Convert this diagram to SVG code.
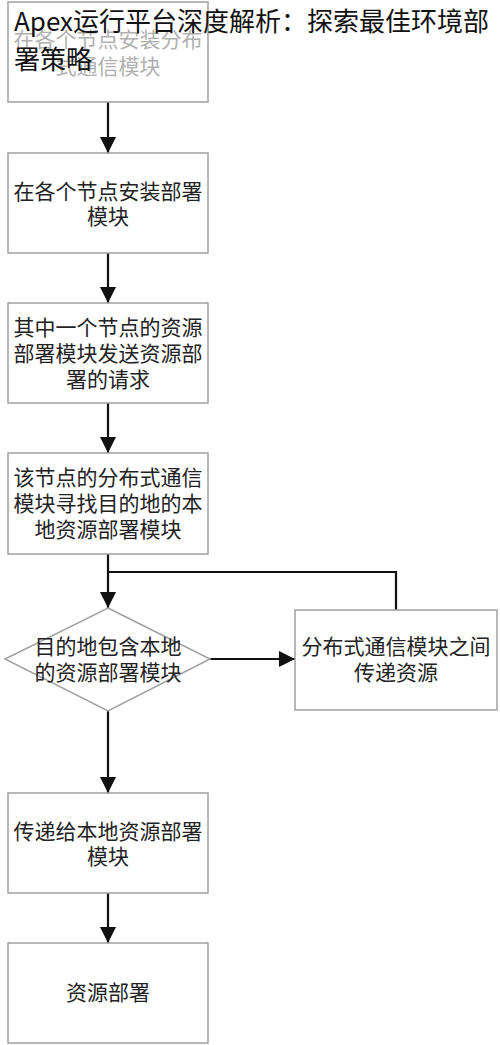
<svg xmlns="http://www.w3.org/2000/svg" width="500" height="1045" viewBox="0 0 500 1045">
<style>
.box{fill:#fff;stroke:#a0a0a0;stroke-width:1.5}
.t{font-family:"Liberation Serif","Noto Sans CJK SC",serif;font-size:21px;fill:#222;text-anchor:middle}
.faded{fill:#b0b0b0}
.c{fill:none;stroke:#111;stroke-width:2.2}
.title{font-family:"Noto Sans CJK SC","Noto Sans",sans-serif;font-size:26px;fill:#111}
</style>
<defs>
<marker id="ah" viewBox="0 0 16 16" refX="16" refY="8" markerWidth="16" markerHeight="16" markerUnits="userSpaceOnUse" orient="auto">
<path d="M0,0 L16,8 L0,16 Z" fill="#111"/>
</marker>
</defs>
<rect width="500" height="1045" fill="#fff"/>
<g id="connectors">
<line class="c" x1="108" y1="102" x2="108" y2="153" marker-end="url(#ah)"/>
<line class="c" x1="108" y1="253" x2="108" y2="303" marker-end="url(#ah)"/>
<line class="c" x1="108" y1="403" x2="108" y2="453" marker-end="url(#ah)"/>
<line class="c" x1="108" y1="554" x2="108" y2="608" marker-end="url(#ah)"/>
<polyline class="c" points="108,572 396,572 396,610"/>
<line class="c" x1="210" y1="659" x2="295" y2="659" marker-end="url(#ah)"/>
<line class="c" x1="108" y1="711" x2="108" y2="793" marker-end="url(#ah)"/>
<line class="c" x1="108" y1="893" x2="108" y2="943" marker-end="url(#ah)"/>
</g>
<g id="n1">
<rect class="box" x="8" y="2" width="200" height="100"/>
<text class="t faded" x="108" y="47">在各个节点安装分布</text>
<text class="t faded" x="108" y="74">式通信模块</text>
</g>
<g id="n2">
<rect class="box" x="8" y="153" width="200" height="100"/>
<text class="t" x="108" y="199">在各个节点安装部署</text>
<text class="t" x="108" y="224">模块</text>
</g>
<g id="n3">
<rect class="box" x="8" y="303" width="200" height="100"/>
<text class="t" x="108" y="335">其中一个节点的资源</text>
<text class="t" x="108" y="361">部署模块发送资源部</text>
<text class="t" x="108" y="387">署的请求</text>
</g>
<g id="n4">
<rect class="box" x="8" y="453" width="200" height="101"/>
<text class="t" x="108" y="485">该节点的分布式通信</text>
<text class="t" x="108" y="511">模块寻找目的地的本</text>
<text class="t" x="108" y="537">地资源部署模块</text>
</g>
<g id="n5">
<polygon class="box" points="108,608 210,659 108,711 5,659"/>
<text class="t" x="108" y="654">目的地包含本地</text>
<text class="t" x="108" y="680">的资源部署模块</text>
</g>
<g id="n6">
<rect class="box" x="295" y="610" width="202" height="100"/>
<text class="t" x="396" y="654">分布式通信模块之间</text>
<text class="t" x="396" y="680">传递资源</text>
</g>
<g id="n7">
<rect class="box" x="8" y="793" width="200" height="100"/>
<text class="t" x="108" y="839">传递给本地资源部署</text>
<text class="t" x="108" y="864">模块</text>
</g>
<g id="n8">
<rect class="box" x="8" y="943" width="200" height="100"/>
<text class="t" x="108" y="1000">资源部署</text>
</g>
<g id="title">
<text class="title" x="14" y="31">Apex运行平台深度解析：探索最佳环境部</text>
<text class="title" x="14" y="69">署策略</text>
</g>
</svg>
